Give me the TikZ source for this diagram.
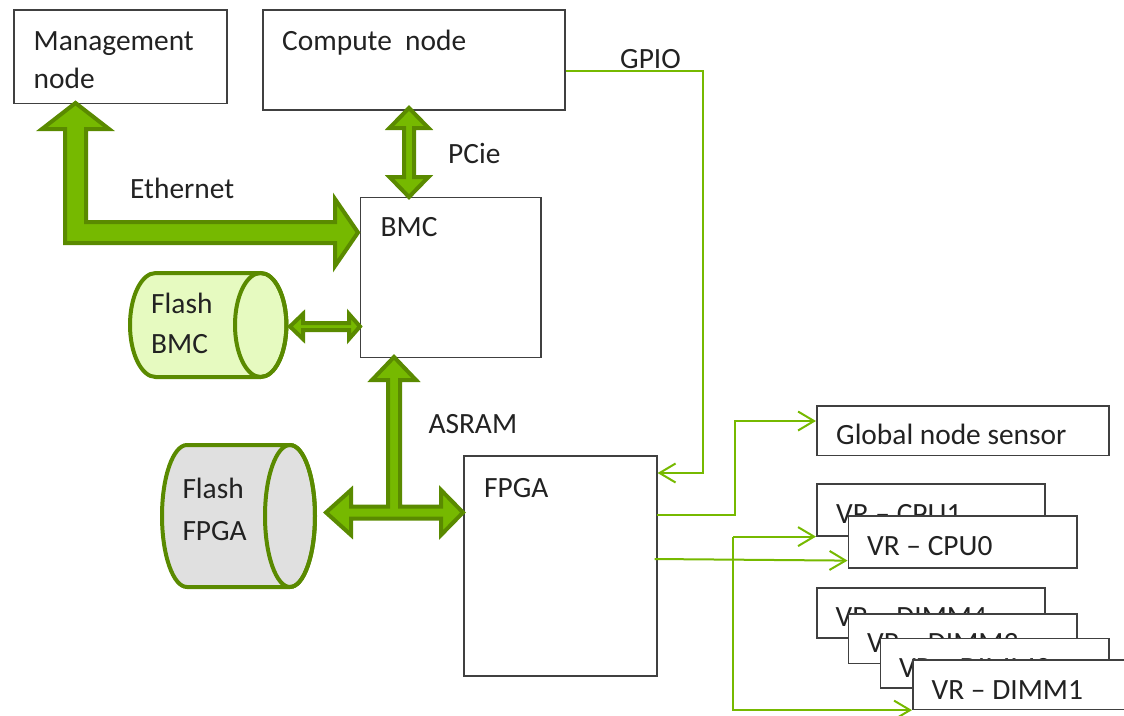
\documentclass[tikz,border=0pt]{standalone}
\usepackage{fontspec}
\setmainfont{Carlito}
\usetikzlibrary{arrows.meta,calc}
\definecolor{nvg}{RGB}{118,185,0}
\definecolor{nvd}{RGB}{90,138,0}
\definecolor{boxc}{RGB}{64,64,64}
\definecolor{txtc}{RGB}{34,34,34}
\definecolor{flashbmc}{RGB}{230,250,192}
\definecolor{flashfpga}{RGB}{224,224,224}
\begin{document}
\begin{tikzpicture}[x=1pt,y=-1pt,
  blk/.style={draw=boxc, line width=1.6pt, fill=white, rectangle, inner sep=0pt, anchor=north west},
  lbl/.style={anchor=base west, inner sep=0pt, text=txtc, font=\fontsize{29.4}{35}\selectfont},
  bigarrow/.style={fill=nvg, draw=nvd, line width=4pt, line join=miter},
  sig/.style={draw=nvg, line width=2pt, -{Straight Barb[length=16pt,width=19pt,line width=2pt]}},
  cyl/.style={draw=nvd, line width=4pt}
]
\useasboundingbox (0,0) rectangle (1124,715);
\clip (0,0) rectangle (1124,715);

% cylinders
\path[cyl, fill=flashbmc] (155.7,273) -- (260.7,273) arc[start angle=90, end angle=-90, x radius=25.7pt, y radius=52pt] -- (155.7,377) arc[start angle=270, end angle=90, x radius=25.7pt, y radius=52pt] -- cycle;
\draw[cyl] (260.7,325) ellipse[x radius=25.7pt, y radius=52pt];
\node[lbl] (fbT1) at (151,313.3) {Flash};
\node[lbl] (fbT2) at (151,353.3) {BMC};

\path[cyl, fill=flashfpga] (187,445) -- (290,445) arc[start angle=90, end angle=-90, x radius=25pt, y radius=71pt] -- (187,587) arc[start angle=270, end angle=90, x radius=25pt, y radius=71pt] -- cycle;
\draw[cyl] (290,516) ellipse[x radius=25pt, y radius=71pt];
\node[lbl] (ffT1) at (182.3,498.3) {Flash};
\node[lbl] (ffT2) at (182.3,540) {FPGA};

% boxes
\node[blk, minimum width=213pt, minimum height=93.5pt] (mgmt) at (13,9) {};
\node[lbl] (mgmtT1) at ($(mgmt.north west)+(20.5,41)$) {Management};
\node[lbl] (mgmtT2) at ($(mgmt.north west)+(20.5,79)$) {node};

\node[blk, minimum width=302pt, minimum height=100pt] (comp) at (262,9) {};
\node[lbl] (compT) at ($(comp.north west)+(20,41)$) {Compute\ \ node};

\node[blk, minimum width=180.5pt, minimum height=160pt] (bmc) at (359.5,196.5) {};
\node[lbl] (bmcT) at ($(bmc.north west)+(21,40.2)$) {BMC};

\node[blk, minimum width=193pt, minimum height=220pt] (fpga) at (463,455) {};
\node[lbl] (fpgaT) at ($(fpga.north west)+(21,42)$) {FPGA};

\node[blk, minimum width=292pt, minimum height=49.5pt] (gns) at (816,405) {};
\node[lbl] (gnsT) at ($(gns.north west)+(20,39.3)$) {Global node sensor};

\node[blk, minimum width=228pt, minimum height=52pt] (cpu1) at (816,483) {};
\node[lbl] (cpu1T) at ($(cpu1.north west)+(20,40.4)$) {VR -- CPU1};
\node[blk, minimum width=228.5pt, minimum height=52pt] (cpu0) at (847.5,515) {};
\node[lbl] (cpu0T) at ($(cpu0.north west)+(19.5,40)$) {VR -- CPU0};

\node[blk, minimum width=228pt, minimum height=50pt] (dimm4) at (816,587) {};
\node[lbl] (dimm4T) at ($(dimm4.north west)+(19.5,39.5)$) {VR -- DIMM4};
\node[blk, minimum width=228.5pt, minimum height=49.5pt] (dimm3) at (847.5,613) {};
\node[lbl] (dimm3T) at ($(dimm3.north west)+(19.5,39.5)$) {VR -- DIMM3};
\node[blk, minimum width=228.5pt, minimum height=49.5pt] (dimm2) at (879.5,637.5) {};
\node[lbl] (dimm2T) at ($(dimm2.north west)+(19.5,39.5)$) {VR -- DIMM2};
\node[blk, minimum width=228pt, minimum height=49.5pt] (dimm1) at (912,659) {};
\node[lbl] (dimm1T) at ($(dimm1.north west)+(19.5,40)$) {VR -- DIMM1};

% block arrows
\draw[bigarrow] (75.5,103) -- (109,129) -- (86,129) -- (86,222) -- (335,222) -- (335,199) -- (358,232.5) -- (335,266) -- (335,243) -- (65,243) -- (65,129) -- (42,129) -- cycle;
\draw[bigarrow] (409,108) -- (428.5,128) -- (414,128) -- (414,177) -- (428.5,177) -- (409,197) -- (389.5,177) -- (404,177) -- (404,128) -- (389.5,128) -- cycle;
\draw[bigarrow] (290,326.5) -- (303,314) -- (303,323) -- (349,323) -- (349,314) -- (360,326.5) -- (349,339) -- (349,330) -- (303,330) -- (303,339) -- cycle;
\draw[bigarrow] (394,357) -- (416,380) -- (400,380) -- (400,506.5) -- (441,506.5) -- (441,490) -- (463,512.5) -- (441,535) -- (441,518.5) -- (351,518.5) -- (351,535) -- (326,512.5) -- (351,490) -- (351,506.5) -- (388,506.5) -- (388,380) -- (372,380) -- cycle;

% free labels
\node[lbl] (ethT) at (130,198.3) {Ethernet};
\node[lbl] (pcieT) at (448,163) {PCie};
\node[lbl] (asramT) at (428.3,433.3) {ASRAM};
\node[lbl] (gpioT) at (620,68) {GPIO};

% signal connectors
\draw[sig] ($(comp.north east)+(0,62)$) -| ($(fpga.north east)+(45,18)$) -- ($(fpga.north east)+(0,18)$);
\draw[sig] ($(fpga.north east)+(-1,60)$) -| ($(gns.north west)+(-81,16)$) -- ($(gns.north west)+(0,16)$);
\draw[sig] ($(fpga.north east)+(-3,104)$) -- ($(cpu0.south west)+(0,-8)$);
\coordinate (bus) at ($(cpu1.south west)+(-83,0)$);
\draw[sig] (bus) -- (cpu1.south west);
\draw[sig] (bus) |- (dimm1.south west);
\end{tikzpicture}
\end{document}
